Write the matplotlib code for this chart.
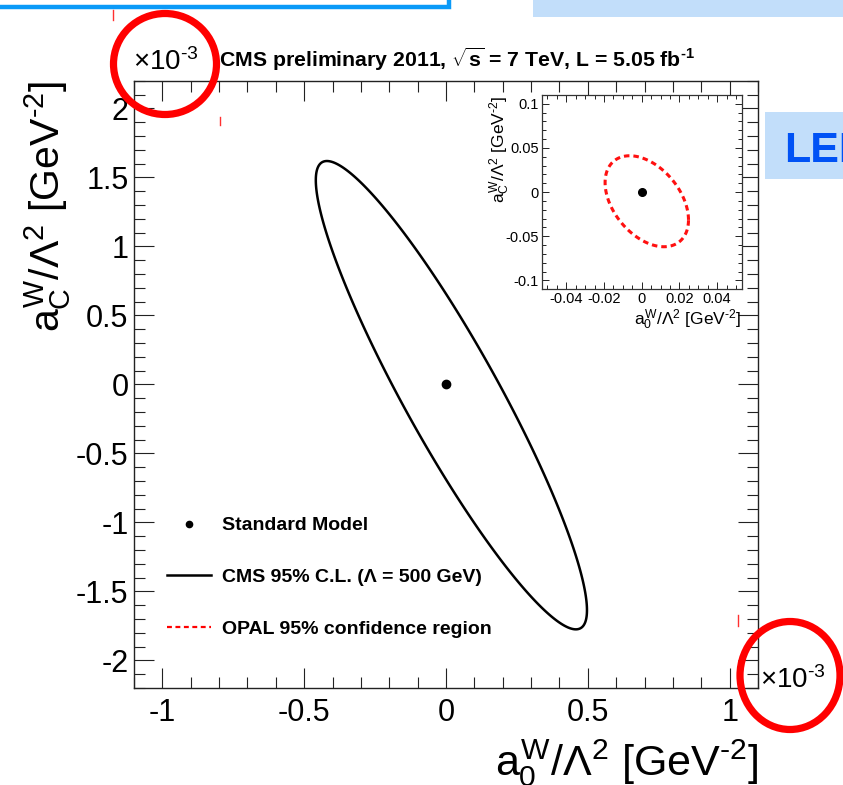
import numpy as np
import matplotlib
matplotlib.use('Agg')
import matplotlib.pyplot as plt
from matplotlib.patches import Ellipse, Rectangle, Polygon
from matplotlib.lines import Line2D
from matplotlib.ticker import MultipleLocator

plt.rcParams['font.family'] = ['Liberation Sans', 'DejaVu Sans']
plt.rcParams['mathtext.fontset'] = 'custom'
plt.rcParams['mathtext.rm'] = 'Liberation Sans'
plt.rcParams['mathtext.it'] = 'Liberation Sans'
plt.rcParams['mathtext.bf'] = 'Liberation Sans:bold'

# ---------------- data ----------------
# main plot, units of 1e-3 GeV^-2
sm_point_x = [0.0]
sm_point_y = [0.0]
cms_center = [0.019, -0.0785]
cms_half_extent = [0.478, 1.6965]
cms_corr = -0.918
# inset, units of GeV^-2
opal_center = [0.0027, -0.0103]
opal_half_extent = [0.0221, 0.0515]
opal_corr = -0.41

main_xlim = [-1.1, 1.1]
main_ylim = [-2.2, 2.2]
main_xticks = [-1, -0.5, 0, 0.5, 1]
main_xticklabels = ['-1', '-0.5', '0', '0.5', '1']
main_yticks = [-2, -1.5, -1, -0.5, 0, 0.5, 1, 1.5, 2]
main_yticklabels = ['-2', '-1.5', '-1', '-0.5', '0', '0.5', '1', '1.5', '2']
inset_xlim = [-0.053, 0.053]
inset_ylim = [-0.11, 0.11]
inset_xticks = [-0.04, -0.02, 0, 0.02, 0.04]
inset_xticklabels = ['-0.04', '-0.02', '0', '0.02', '0.04']
inset_yticks = [-0.1, -0.05, 0, 0.05, 0.1]
inset_yticklabels = ['-0.1', '-0.05', '0', '0.05', '0.1']
legend_labels = ['Standard Model', 'CMS 95% C.L. (\u039b = 500 GeV)',
                 'OPAL 95% confidence region']
HY = '\u2010'
title_text = r'CMS preliminary 2011, $\mathbf{\sqrt{s}}$ = 7 TeV, L = 5.05 fb$^{\mathbf{' + HY + '1}}$'
xlabel_text = r'$a_{0}^{W}/\Lambda^{2}$ [GeV$^{' + HY + '2}$]'
ylabel_text = r'$a_{C}^{W}/\Lambda^{2}$ [GeV$^{' + HY + '2}$]'
exp_text = r'$\times10^{' + HY + '3}$'


def contour(center, half, corr, n=500):
    t = np.linspace(0, 2 * np.pi, n, endpoint=False)
    phi = np.arccos(corr)
    return center[0] + half[0] * np.cos(t), center[1] + half[1] * np.cos(t - phi)


W, H = 843, 785
fig = plt.figure(figsize=(W / 100, H / 100), dpi=100)
fig.patch.set_facecolor('white')


def fx(px):
    return px / W


def fy(py):
    return 1 - py / H


# ---------------- slide decorations ----------------
fig.add_artist(Rectangle((fx(-20), fy(7)), fx(469), 0.05, transform=fig.transFigure,
                         facecolor='white', edgecolor='#0A9AF8', lw=3.2, clip_on=False))
fig.add_artist(Rectangle((fx(533), fy(17)), fx(320), 17 / H + 0.01, transform=fig.transFigure,
                         facecolor='#C2DEFA', edgecolor='none'))
fig.add_artist(Rectangle((fx(765), fy(179)), fx(90), 67 / H, transform=fig.transFigure,
                         facecolor='#C2DEFA', edgecolor='none'))
fig.text(fx(784), fy(162), 'LEP', color='#0052F5', fontsize=31, fontweight='bold',
         ha='left', va='baseline')

# ---------------- main axes ----------------
ax = fig.add_axes([fx(134), fy(688), fx(758 - 134), (688 - 80.7) / H])
cx, cy = contour(cms_center, cms_half_extent, cms_corr)
ax.add_patch(Polygon(np.column_stack([cx, cy]), closed=True, fill=False,
                     edgecolor='black', lw=1.8))
ax.plot(sm_point_x, sm_point_y, 'o', color='black', ms=6)
ax.set_xlim(main_xlim)
ax.set_ylim(main_ylim)
ax.set_xticks(main_xticks)
ax.set_xticklabels(main_xticklabels)
ax.set_yticks(main_yticks)
ax.set_yticklabels(main_yticklabels)
ax.xaxis.set_minor_locator(MultipleLocator(0.1))
ax.yaxis.set_minor_locator(MultipleLocator(0.1))
ax.tick_params(which='both', direction='in', top=True, right=True, width=0.8, color='#222222')
ax.tick_params(which='major', length=14.5, labelsize=22)
ax.tick_params(axis='x', which='major', pad=7)
ax.tick_params(axis='y', which='major', pad=4)
ax.tick_params(which='minor', length=8)
for s in ax.spines.values():
    s.set_linewidth(1.0)
    s.set_color('#222222')
ax.set_xlabel(xlabel_text, fontsize=31, loc='right', labelpad=7)
ax.set_ylabel(ylabel_text, fontsize=29.5, loc='top', labelpad=2)

ax.text(-0.002, 1.008, exp_text, transform=ax.transAxes, fontsize=20, ha='left', va='bottom')
ax.text(1.003, 0.0, exp_text, transform=ax.transAxes, fontsize=20, ha='left', va='baseline')
ax.text(0.137, 1.012, title_text, transform=ax.transAxes, fontsize=15.3, fontweight='bold',
        ha='left', va='bottom')

handles = [Line2D([], [], marker='o', ls='none', color='black', ms=4.5),
           Line2D([], [], color='black', lw=1.8),
           Line2D([], [], color='red', lw=1.6, ls=(0, (2.2, 1.6)))]
ax.legend(handles, legend_labels, loc='lower left', bbox_to_anchor=(0.053, 0.083),
          frameon=False, prop={'weight': 'bold', 'size': 14}, handlelength=2.25,
          handletextpad=0.55, labelspacing=1.75, borderpad=0, borderaxespad=0)

# ---------------- inset ----------------
ins = fig.add_axes([fx(541.7), fy(289.3), fx(200), 194.3 / H])
ox, oy = contour(opal_center, opal_half_extent, opal_corr)
ins.add_patch(Polygon(np.column_stack([ox, oy]), closed=True, fill=False,
                      edgecolor='#FF1010', lw=2.2, ls=(0, (1.8, 1.3))))
ins.plot(sm_point_x, sm_point_y, 'o', color='black', ms=5.5)
ins.set_xlim(inset_xlim)
ins.set_ylim(inset_ylim)
ins.set_xticks(inset_xticks)
ins.set_xticklabels(inset_xticklabels)
ins.set_yticks(inset_yticks)
ins.set_yticklabels(inset_yticklabels)
ins.xaxis.set_minor_locator(MultipleLocator(0.005))
ins.yaxis.set_minor_locator(MultipleLocator(0.01))
ins.tick_params(which='both', direction='in', top=True, right=True, width=0.7, color='#222222')
ins.tick_params(which='major', length=5, labelsize=10.5, pad=2)
ins.tick_params(which='minor', length=2.6)
for s in ins.spines.values():
    s.set_linewidth(0.9)
    s.set_color('#333333')
ins.set_xlabel(xlabel_text, fontsize=12.5, loc='right', labelpad=1)
ins.set_ylabel(ylabel_text, fontsize=12.5, loc='top', labelpad=-5)

# ---------------- annotation circles ----------------
fig.add_artist(Ellipse((fx(165), fy(64)), 103 / W, 101 / H, transform=fig.transFigure,
                       fill=False, edgecolor='#FF0000', lw=5.2))
fig.add_artist(Ellipse((fx(790), fy(675.5)), 100 / W, 108 / H, transform=fig.transFigure,
                       fill=False, edgecolor='#FF0000', lw=5.2))
for (x0, y0, y1) in [(113, 10, 20), (220, 117, 125), (738, 615, 626)]:
    fig.add_artist(Line2D([fx(x0), fx(x0)], [fy(y0), fy(y1)], transform=fig.transFigure,
                          color='#FF3030', lw=1.0))

fig.savefig('out.png', dpi=100)
